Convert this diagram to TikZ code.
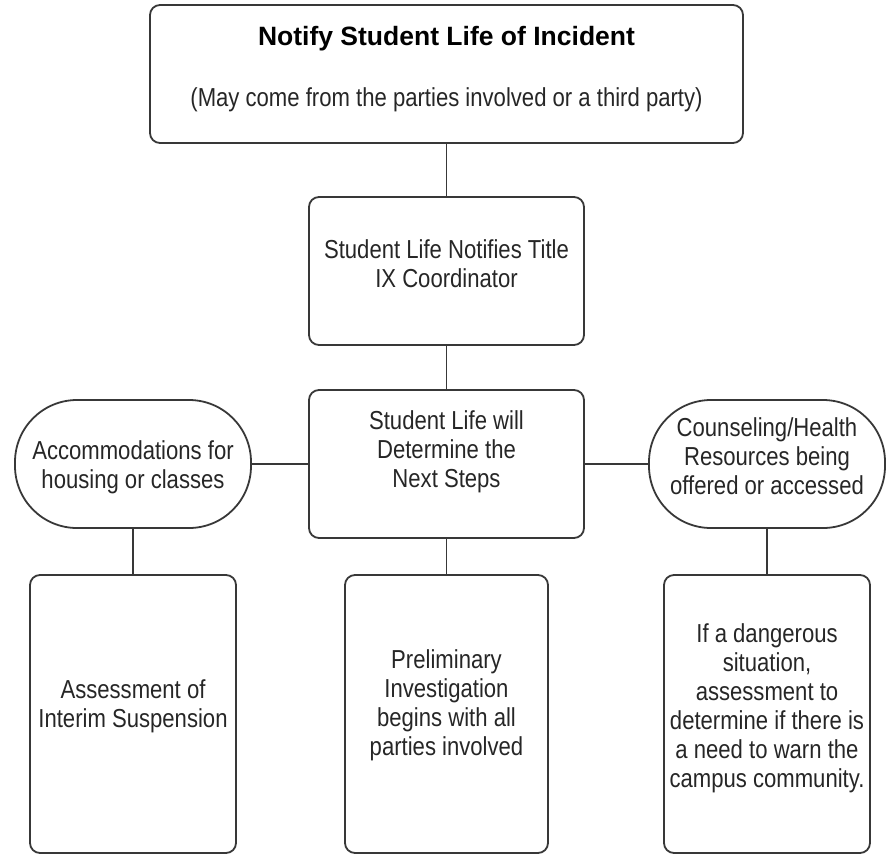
\documentclass[tikz,border=0pt]{standalone}
\usepackage{fontspec}
\setmainfont{Liberation Sans}[FakeStretch=0.85]
\newfontfamily\headfont{Liberation Sans}
\usetikzlibrary{calc}

\begin{document}
\begin{tikzpicture}[x=1pt,y=-1pt,
		frame/.style={draw=black!78,line width=1.8pt,rounded corners=10pt,inner sep=0pt},
		pill/.style={draw=black!78,line width=1.8pt,rounded corners=62pt,inner sep=0pt,minimum width=236pt,minimum height=128pt},
		tall/.style={frame,minimum width=206pt,minimum height=278pt},
		txt/.style={anchor=base,align=center,inner sep=0pt,text=black!85,font=\fontsize{26}{29}\selectfont},
		link/.style={draw=black!78,line width=1.8pt}]
		\useasboundingbox (0,0) rectangle (888,854);
		% boxes
		\node[frame,minimum width=593pt,minimum height=138pt] (notify) at (446.5,74) {};
		\node[frame,minimum width=275pt,minimum height=148pt] (tix) at (446.5,271) {};
		\node[frame,minimum width=275pt,minimum height=148pt] (determine) at (446.5,464) {};
		\node[pill] (accom) at (133,464) {};
		\node[pill] (counsel) at (767,464) {};
		\node[tall] (interim) at (133,714) {};
		\node[tall,minimum width=203pt] (prelim) at (446.5,714) {};
		\node[tall] (danger) at (767,714) {};
		% texts (anchored on the last line)
		\node[txt,text=black,font=\headfont\bfseries\fontsize{26.5}{30}\selectfont] (notify-title) at (446.5,45) {Notify Student Life of Incident};
		\node[txt] (notify-sub) at (446.5,106) {(May come from the parties involved or a third party)};
		\node[txt] (tix-txt) at (446.5,287) {Student Life Notifies Title\\IX Coordinator};
		\node[txt] (determine-txt) at (446.5,487) {Student Life will\\Determine the\\Next Steps};
		\node[txt] (accom-txt) at (133,488) {Accommodations for\\housing or classes};
		\node[txt] (counsel-txt) at (767,494) {Counseling/Health\\Resources being\\offered or accessed};
		\node[txt] (interim-txt) at (133,727) {Assessment of\\Interim Suspension};
		\node[txt] (prelim-txt) at (446.5,755) {Preliminary\\Investigation\\begins with all\\parties involved};
		\node[txt] (danger-txt) at (767,787) {If a dangerous\\situation,\\assessment to\\determine if there is\\a need to warn the\\campus community.};
		% connectors
		\draw[link] (notify) -- (tix);
		\draw[link] (tix) -- (determine);
		\draw[link] (determine) -- (accom);
		\draw[link] (determine) -- (counsel);
		\draw[link] (accom) -- (interim);
		\draw[link] (determine) -- (prelim);
		\draw[link] (counsel) -- (danger);
	\end{tikzpicture}
\end{document}
